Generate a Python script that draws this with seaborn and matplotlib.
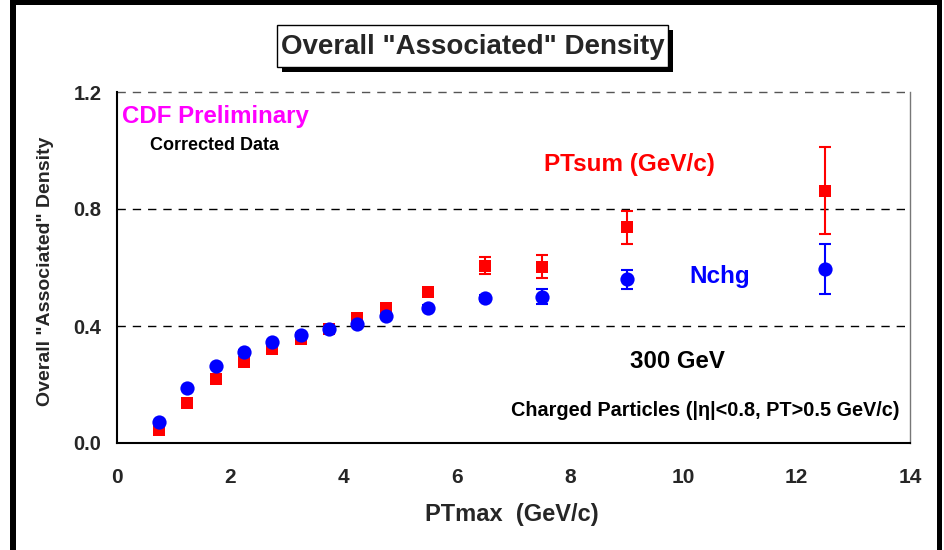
import matplotlib
matplotlib.use("Agg")
import matplotlib.pyplot as plt
import matplotlib.patches as mpatches
import seaborn as sns
import pandas as pd

# PTmax bin centres (GeV/c)
pt_max = [0.75, 1.25, 1.75, 2.25, 2.75, 3.25, 3.75, 4.25, 4.75, 5.5, 6.5, 7.5, 9.0, 12.5]

# Charged-particle density (Nchg) and its uncertainty
nchg = [0.071, 0.187, 0.263, 0.312, 0.344, 0.370, 0.389, 0.406, 0.435, 0.463, 0.495, 0.500, 0.560, 0.595]
nchg_err = [0.004, 0.005, 0.005, 0.005, 0.005, 0.006, 0.006, 0.007, 0.008, 0.009, 0.010, 0.026, 0.033, 0.085]

# Transverse-momentum sum density (PTsum, GeV/c) and its uncertainty
ptsum = [0.044, 0.138, 0.218, 0.277, 0.322, 0.355, 0.390, 0.428, 0.463, 0.515, 0.606, 0.603, 0.737, 0.863]
ptsum_err = [0.004, 0.005, 0.005, 0.006, 0.006, 0.007, 0.008, 0.009, 0.010, 0.012, 0.029, 0.039, 0.055, 0.150]

x_ticks = [0, 2, 4, 6, 8, 10, 12, 14]
y_ticks = [0.0, 0.4, 0.8, 1.2]

sns.set_theme(style="white")
plt.rcParams["font.family"] = ["Liberation Sans", "DejaVu Sans"]
plt.rcParams["font.weight"] = "bold"

W, H = 944, 550
fig = plt.figure(figsize=(W / 100, H / 100), dpi=100)
fig.patch.set_facecolor("white")


def fx(px):
    return px / W


def fy(py):
    return 1 - py / H


ax = fig.add_axes([fx(116.6), fy(443), fx(910) - fx(116.6), fy(92) - fy(443)])

df = pd.DataFrame({
    "pt": pt_max * 2,
    "density": ptsum + nchg,
    "err": ptsum_err + nchg_err,
    "series": ["PTsum"] * len(pt_max) + ["Nchg"] * len(pt_max),
})
colors = {"PTsum": "#FF0000", "Nchg": "#0000FF"}

for name in ["PTsum", "Nchg"]:
    sub = df[df.series == name]
    ax.errorbar(sub.pt, sub.density, yerr=sub.err, fmt="none",
                ecolor=colors[name], elinewidth=1.5, capsize=4.2, capthick=1.5, zorder=2)

sns.scatterplot(data=df[df.series == "PTsum"], x="pt", y="density", marker="s",
                color=colors["PTsum"], s=85, linewidth=0, ax=ax, zorder=3, legend=False)
sns.scatterplot(data=df[df.series == "Nchg"], x="pt", y="density", marker="o",
                color=colors["Nchg"], s=105, linewidth=0, ax=ax, zorder=4, legend=False)

ax.set_xlim(0, 14)
ax.set_ylim(0, 1.2)
ax.set_xticks(x_ticks)
ax.set_yticks(y_ticks)
ax.set_xticklabels([str(t) for t in x_ticks], fontsize=15, fontweight="bold")
ax.set_yticklabels([f"{t:.1f}" for t in y_ticks], fontsize=14.5, fontweight="bold")
ax.set_xlabel("")
ax.set_ylabel("")

for yv in [0.4, 0.8]:
    ax.axhline(yv, color="black", lw=1.0, ls=(0, (6, 5)), zorder=1)
ax.axhline(1.2, color="#555555", lw=1.0, ls=(0, (6, 5)), zorder=1, clip_on=False)

ax.spines["top"].set_visible(False)
ax.spines["right"].set_color("#777777")
ax.spines["right"].set_linewidth(1.0)
ax.spines["left"].set_color("black")
ax.spines["left"].set_linewidth(1.5)
ax.spines["bottom"].set_color("black")
ax.spines["bottom"].set_linewidth(1.5)
ax.tick_params(axis="x", direction="inout", length=14, width=1.2, color="#333333", pad=11)
ax.tick_params(axis="y", direction="out", length=7, width=1.2, color="#333333", pad=4)

# Axis titles
fig.text(fx(512), fy(515), "PTmax  (GeV/c)", ha="center", va="center",
         fontsize=17, fontweight="bold")
fig.text(fx(46), fy(271), 'Overall "Associated" Density', ha="center", va="center",
         rotation=90, fontsize=14, fontweight="bold")

# Annotations inside the plot
fig.text(fx(122), fy(117), "CDF Preliminary", ha="left", va="center",
         fontsize=17.3, fontweight="bold", color="#FF00FF")
fig.text(fx(150), fy(146), "Corrected Data", ha="left", va="center",
         fontsize=13, fontweight="bold", color="black")
fig.text(fx(544), fy(165), "PTsum (GeV/c)", ha="left", va="center",
         fontsize=17.5, fontweight="bold", color="#FF0000")
fig.text(fx(689), fy(277), "Nchg", ha="left", va="center",
         fontsize=17.5, fontweight="bold", color="#0000FF")
fig.text(fx(630), fy(362), "300 GeV", ha="left", va="center",
         fontsize=17.3, fontweight="bold", color="black")
fig.text(fx(511), fy(410), "Charged Particles (|\u03b7|<0.8, PT>0.5 GeV/c)", ha="left", va="center",
         fontsize=14.3, fontweight="bold", color="black")

# Title box with drop shadow
bx0, bx1, by0, by1 = 277, 668, 25, 67
shadow = mpatches.Rectangle((fx(bx0 + 5), fy(by1 + 5)), fx(bx1) - fx(bx0), fy(by0) - fy(by1),
                            transform=fig.transFigure, facecolor="black", edgecolor="none", zorder=5)
box = mpatches.Rectangle((fx(bx0), fy(by1)), fx(bx1) - fx(bx0), fy(by0) - fy(by1),
                         transform=fig.transFigure, facecolor="white", edgecolor="black",
                         linewidth=1.0, zorder=6)
fig.patches.extend([shadow, box])
fig.text(fx((bx0 + bx1) / 2), fy((by0 + by1) / 2 + 1), 'Overall "Associated" Density',
         ha="center", va="center", fontsize=20, fontweight="bold", zorder=7)

# Heavy outer frame
for (x0, y0, x1, y1) in [(10, 0, 16, 550), (10, 0, 942, 5), (937, 0, 942, 550)]:
    fig.patches.append(mpatches.Rectangle((fx(x0), fy(y1)), fx(x1) - fx(x0), fy(y0) - fy(y1),
                                          transform=fig.transFigure, facecolor="black",
                                          edgecolor="none", zorder=8))

fig.savefig("out.png", dpi=100, facecolor="white")
